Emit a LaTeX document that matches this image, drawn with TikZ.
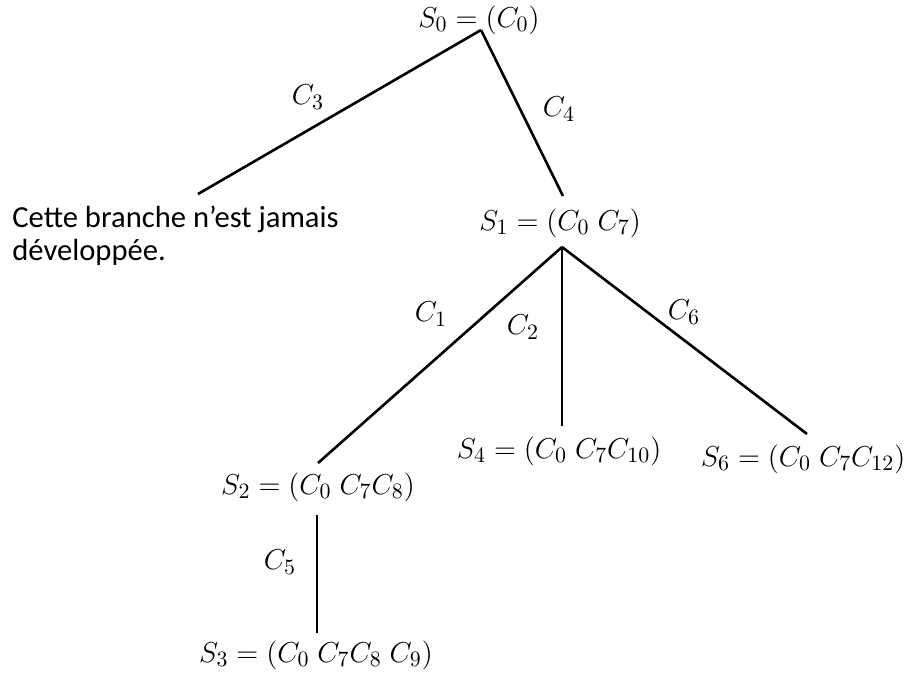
\documentclass[tikz,border=0pt]{standalone}
\usepackage{fontspec}
\newfontfamily\carlitofont{Carlito}
\begin{document}
\begin{tikzpicture}[x=0.5pt,y=-0.5pt,
  edge/.style={line width=1.3pt, black},
  st/.style={font=\fontsize{15.5}{18}\selectfont, inner sep=0pt},
  lab/.style={font=\fontsize{15.5}{18}\selectfont, inner sep=0pt},
  note/.style={font=\carlitofont\fontsize{15.3}{16.5}\selectfont, inner sep=0pt, align=left, anchor=base west}]
\useasboundingbox (0,0) rectangle (913,677);
% state nodes
\node[st] (S0) at (479,20) {$S_0 = (C_0)$};
\node[st] (S1) at (560,223) {$S_1 = (C_0\;C_7)$};
\node[st] (S2) at (318,487) {$S_2 = (C_0\;C_7C_8)$};
\node[st] (S4) at (559,451) {$S_4 = (C_0\;C_7C_{10})$};
\node[st] (S6) at (803,459) {$S_6 = (C_0\;C_7C_{12})$};
\node[st] (S3) at (316,655) {$S_3 = (C_0\;C_7C_8\;C_9)$};
\node[note] (N) at (12,260) {Cette branche n’est jamais\\développée.};
% connector ends
\coordinate (a0) at (481,30);
\coordinate (e3) at (198,194);
\coordinate (e4) at (563,196);
\coordinate (a1) at (562,247);
\coordinate (e1) at (318,463);
\coordinate (e2) at (562,426);
\coordinate (e6) at (807,434);
\coordinate (a2) at (317,515);
\coordinate (e5) at (317,633);
% connectors
\draw[edge] (a0) -- (e3);
\draw[edge] (a0) -- (e4);
\draw[edge] (a1) -- (e1);
\draw[edge] (a1) -- (e2);
\draw[edge] (a1) -- (e6);
\draw[edge] (a2) -- (e5);
% labels
\node[lab] (L3) at (308,97) {$C_3$};
\node[lab] (L4) at (559,109) {$C_4$};
\node[lab] (L1) at (431,314) {$C_1$};
\node[lab] (L2) at (523,327) {$C_2$};
\node[lab] (L6) at (684,312) {$C_6$};
\node[lab] (L5) at (280,562) {$C_5$};
\end{tikzpicture}
\end{document}
